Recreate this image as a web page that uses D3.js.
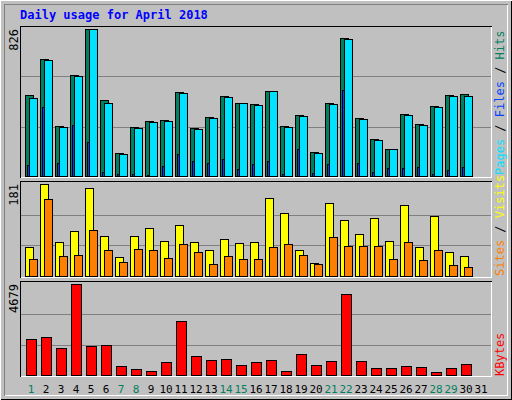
<!DOCTYPE html>
<html><head><meta charset="utf-8">
<script src="https://cdn.jsdelivr.net/npm/d3@7"></script>
<style>body{margin:0;background:#fff}svg{display:block}text{font-family:"DejaVu Sans Mono",monospace}</style>
</head><body><svg id="c" width="512" height="400"></svg>
<script>
// April 2018 daily stats
var days = d3.range(1, 32);
var weekend = [1, 7, 8, 14, 15, 21, 22, 28, 29];
var hits = [454,659,280,567,826,426,128,274,308,313,473,268,330,449,409,404,479,280,342,133,409,775,325,206,150,347,291,392,454,460];
var files = [437,651,274,561,826,409,122,268,302,308,467,263,325,443,409,398,479,274,336,128,404,770,319,201,150,342,285,387,449,449];
var pages = [62,387,71,285,190,21,11,11,6,56,122,83,71,94,39,66,83,11,150,15,66,482,71,21,43,43,51,11,32,51];
var visits = [57,181,67,89,173,79,37,79,94,69,100,67,51,73,65,67,153,124,51,26,144,110,83,115,69,140,57,119,47,39];
var sites = [33,152,39,41,91,51,28,53,51,35,63,47,24,39,33,33,57,63,41,24,77,59,59,59,33,67,31,51,22,18];
var kbytes = [1851,1954,1388,4679,1491,1543,463,309,206,668,2777,977,771,823,514,668,771,206,1080,514,720,4165,720,360,360,463,411,154,360,566];

var svg = d3.select("#c").attr("shape-rendering", "crispEdges");
svg.append("rect").attr("width", 512).attr("height", 400).attr("fill", "#c0c0c0");
// 3d frame
svg.append("path").attr("d", "M0.5,399.5V0.5H511.5").attr("stroke", "#fff").attr("fill", "none");
svg.append("path").attr("d", "M0.5,399.5H511.5V0.5").attr("stroke", "#000").attr("fill", "none");
svg.append("path").attr("d", "M4.5,395.5H507.5V4.5").attr("stroke", "#fff").attr("fill", "none");
svg.append("path").attr("d", "M4.5,395.5V4.5H507.5").attr("stroke", "#808080").attr("fill", "none");

svg.append("text").attr("x", 20).attr("y", 19).attr("fill", "#0000ff")
  .attr("font-weight", "bold").attr("font-size", 12).text("Daily usage for April 2018");

var x = d3.scaleBand().domain(days).range([23, 488]);

function panel(y0, y1, max, label) {
  var y = d3.scaleLinear().domain([0, max]).range([y1, y0]);
  var g = svg.append("g");
  g.append("path").attr("d", "M20.5," + (y1 + 1.5) + "V" + (y0 - 2.5) + "H491.5")
    .attr("stroke", "#000").attr("fill", "none");
  g.append("path").attr("d", "M20.5," + (y1 + 1.5) + "H491.5V" + (y0 - 2.5))
    .attr("stroke", "#fff").attr("fill", "none");
  [max / 3, max * 2 / 3].forEach(function (v) {
    g.append("line").attr("x1", 21).attr("x2", 491)
      .attr("y1", Math.round(y(max) + (y1 - y0) * 0) ).attr("y2", 0).remove();
  });
  // webalizer gridlines
  var grid = label === "top" ? [0.333, 0.68] : [0.333, 0.667];
  grid.forEach(function (f) {
    var gy = Math.round(y(max * f)) + 0.5;
    g.append("line").attr("x1", 21).attr("x2", 491).attr("y1", gy).attr("y2", gy)
      .attr("stroke", "#808080");
  });
  g.append("text").attr("transform", "translate(18," + y0 + ") rotate(-90)")
    .attr("text-anchor", "end").attr("font-size", 12).attr("fill", "#000").text(max);
  return y;
}

function bars(data, y, dx, w, fill) {
  svg.append("g").selectAll("rect").data(data).join("rect")
    .attr("x", function (d, i) { return x(i + 1) + dx + 0.5; })
    .attr("y", function (d) { return Math.round(y(d)) + 0.5; })
    .attr("width", w)
    .attr("height", function (d) { return y.range()[0] - Math.round(y(d)); })
    .attr("fill", fill).attr("stroke", "#000");
}

var yTop = panel(29, 176, 826, "top");
bars(hits, yTop, 2, 8, "#00805f");
bars(files, yTop, 6, 8, "#00e0ff");
bars(pages, yTop, 4, 2, "#0040ff");

var yMid = panel(184, 276, 181, "mid");
bars(visits, yMid, 2, 8, "#ffff00");
bars(sites, yMid, 6, 8, "#ff8000");

var yBot = panel(284, 375, 4679, "bot");
bars(kbytes, yBot, 3, 10, "#ff0000");

// right-hand legends
function legend(yb, parts) {
  var t = svg.append("text").attr("transform", "translate(504," + yb + ") rotate(-90)")
    .attr("font-size", 12);
  parts.forEach(function (p, i) {
    if (i) t.append("tspan").attr("fill", "#000").text(" / ");
    t.append("tspan").attr("fill", p[1]).text(p[0]);
  });
}
legend(175, [["Pages", "#00e0ff"], ["Files", "#0040ff"], ["Hits", "#00805f"]]);
legend(276, [["Sites", "#ff8000"], ["Visits", "#ffff00"]]);
legend(376, [["KBytes", "#ff0000"]]);

svg.append("g").selectAll("text").data(days).join("text")
  .attr("x", function (d) { return x(d) + 8; }).attr("y", 393)
  .attr("text-anchor", "middle").attr("font-size", 11)
  .attr("fill", function (d) { return weekend.indexOf(d) >= 0 ? "#00805f" : "#000"; })
  .text(function (d) { return d; });
</script></body></html>
